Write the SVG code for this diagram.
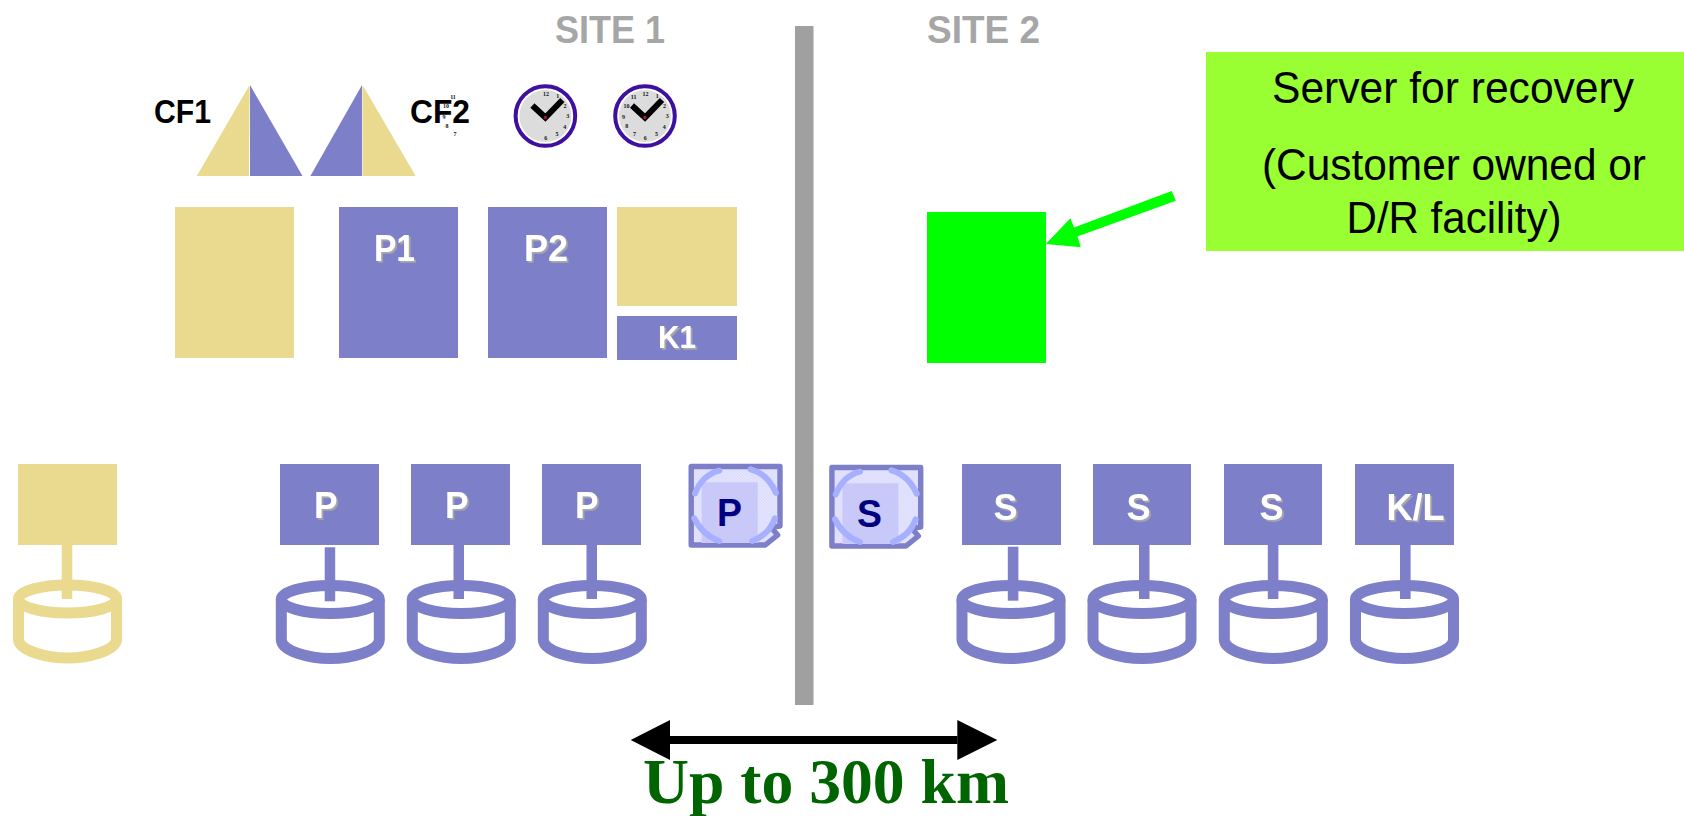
<svg xmlns="http://www.w3.org/2000/svg" xmlns:xlink="http://www.w3.org/1999/xlink" width="1684" height="816" viewBox="0 0 1684 816">
<style>
text{font-family:"Liberation Sans",Arial,sans-serif}
.b{fill:#7d7fc8}.y{fill:#e9da8f}
.lbl{font-weight:700;font-size:37px;fill:#fff;filter:url(#sh)}
.cf{font-weight:700;font-size:33px;fill:#000}
.site{font-weight:700;font-size:38px;fill:#a6a6a6}
.note{font-size:45px;fill:#000;text-anchor:middle}
.doc{font-weight:700;font-size:38px;fill:#000080}
.n{font-family:"Liberation Serif",serif;font-weight:700;font-size:6px;fill:#111;text-anchor:middle}
.cyl{fill:none;stroke-width:11}
.cb{stroke:#7d7fc8}.cy{stroke:#e9da8f}
.stem-b{fill:#7d7fc8}.stem-y{fill:#e9da8f}
.big{font-family:"Liberation Serif",serif;font-weight:700;font-size:64px;fill:#006400}
</style>
<defs>
<filter id="sh" x="-20%" y="-20%" width="150%" height="150%"><feDropShadow dx="1.8" dy="1.8" stdDeviation="0.3" flood-color="#a8a8a8" flood-opacity="1"/></filter>
<pattern id="chk" width="3" height="3" patternUnits="userSpaceOnUse"><rect width="3" height="3" fill="#e8e8ff"/><rect width="1.5" height="1.5" fill="#d8d9fc"/><rect x="1.5" y="1.5" width="1.5" height="1.5" fill="#d8d9fc"/></pattern>
<g id="cyl"><ellipse rx="49" ry="14"/><path d="M-49,0V40C-49,52-20,59 0,59C20,59 49,52 49,40V0"/></g>
<g id="docshape">
<path d="M2.500,2.500H91.300V62L82.300,63.300L89,71L76.600,81H2.500z" fill="url(#chk)" stroke="#7d7fc8" stroke-width="5.400" stroke-linejoin="round"/>
<rect x="13" y="18.300" width="56" height="60.700" fill="#c8c9f8"/>
<path d="M6.300,29.300Q14,10.700 30.600,6.700M62,5.300Q79,10 87.300,28.700M5.600,54.300Q14,71 30.600,77M86.300,54.300Q81,70 63.600,77" fill="none" stroke="#a6b0ff" stroke-width="6" stroke-linecap="round"/>
</g>
<g id="clockface">
<circle r="29.800" fill="#fff" stroke="#3f0f9f" stroke-width="4"/>
<circle r="26" fill="#dcdcdc"/>
<path d="M-13,-10.500L0,1.500L17,-16" fill="none" stroke="#000" stroke-width="6"/>
<circle cy="1.500" r="1.800" fill="#a01050"/>
</g>
</defs>
<rect width="1684" height="816" fill="#fff"/>

<g id="divider"><rect x="795" y="26" width="18.500" height="679" fill="#a0a0a0"/></g>
<g id="site1"><text class="site" x="555" y="43" textLength="110" lengthAdjust="spacingAndGlyphs">SITE 1</text></g>
<g id="site2"><text class="site" x="927" y="43" textLength="113" lengthAdjust="spacingAndGlyphs">SITE 2</text></g>

<g id="cf1"><text class="cf" x="154" y="123" textLength="57" lengthAdjust="spacingAndGlyphs">CF1</text>
<path class="y" d="M249.600,85L196.800,176H249z"/><path class="b" d="M250,85L302.500,176H250z"/></g>
<g id="cf2"><text class="cf" x="410" y="123" textLength="60" lengthAdjust="spacingAndGlyphs">CF2</text>
<path class="b" d="M362,85L310.400,176H362z"/><path class="y" d="M362.500,85L415.700,176H362.500z"/></g>

<g id="clock1"><use xlink:href="#clockface" href="#clockface" transform="translate(545.400,116)"/>
<text class="n" x="546" y="96">12</text><text class="n" x="557.700" y="98">1</text><text class="n" x="565" y="108">2</text><text class="n" x="567.700" y="118">3</text><text class="n" x="564.700" y="128.700">4</text><text class="n" x="557" y="136">5</text><text class="n" x="545.700" y="140.300">6</text>
<text class="n" x="455" y="136">7</text><text class="n" x="447" y="128">8</text><text class="n" x="444" y="118.700">9</text><text class="n" x="446" y="108">10</text><text class="n" x="453" y="98.700">11</text></g>
<g id="clock2"><use xlink:href="#clockface" href="#clockface" transform="translate(645,116)"/>
<text class="n" x="645.600" y="96">12</text><text class="n" x="657.300" y="98">1</text><text class="n" x="664.600" y="108">2</text><text class="n" x="667.300" y="118">3</text><text class="n" x="664.300" y="128.700">4</text><text class="n" x="656.600" y="136">5</text><text class="n" x="645.300" y="140.300">6</text>
<text class="n" x="634.600" y="135.700">7</text><text class="n" x="626.800" y="128">8</text><text class="n" x="623.600" y="119">9</text><text class="n" x="626.400" y="108">10</text><text class="n" x="633.600" y="99">11</text></g>

<g id="cec-y"><rect class="y" x="175" y="207" width="119" height="151"/></g>
<g id="cec-p1"><rect class="b" x="339" y="207" width="119" height="151"/><text class="lbl" x="374" y="261" textLength="41" lengthAdjust="spacingAndGlyphs">P1</text></g>
<g id="cec-p2"><rect class="b" x="488" y="207" width="119" height="151"/><text class="lbl" x="524" y="261" textLength="44" lengthAdjust="spacingAndGlyphs">P2</text></g>
<g id="cec-k"><rect class="y" x="617" y="207" width="120" height="99"/></g>
<g id="cec-k1"><rect class="b" x="617" y="316" width="120" height="44"/><text x="658" y="348" textLength="38" lengthAdjust="spacingAndGlyphs" style="font-weight:700;font-size:32px;fill:#fff;filter:url(#sh)">K1</text></g>

<g id="recovery-server"><rect x="927" y="212" width="119" height="151" fill="#0f0"/></g>
<g id="note"><rect x="1206" y="52" width="478" height="199" fill="#9f3"/>
<text class="note" x="1453" y="103" textLength="362" lengthAdjust="spacingAndGlyphs">Server for recovery</text>
<text class="note" x="1454" y="180" textLength="384" lengthAdjust="spacingAndGlyphs">(Customer owned or</text>
<text class="note" x="1454" y="232.500" textLength="215" lengthAdjust="spacingAndGlyphs">D/R facility)</text></g>

<g id="sys-y"><rect class="y" x="18" y="464" width="99" height="81"/></g>
<g id="sys-p1"><rect class="b" x="280" y="464" width="99" height="81"/><text class="lbl" x="314" y="518" textLength="23.500" lengthAdjust="spacingAndGlyphs">P</text></g>
<g id="sys-p2"><rect class="b" x="411" y="464" width="99" height="81"/><text class="lbl" x="445" y="518" textLength="23.500" lengthAdjust="spacingAndGlyphs">P</text></g>
<g id="sys-p3"><rect class="b" x="542" y="464" width="99" height="81"/><text class="lbl" x="575" y="518" textLength="23.500" lengthAdjust="spacingAndGlyphs">P</text></g>
<g id="doc-p"><use xlink:href="#docshape" href="#docshape" transform="translate(688.700,464)"/><text class="doc" x="717" y="526" textLength="25" lengthAdjust="spacingAndGlyphs">P</text></g>
<g id="doc-s"><use xlink:href="#docshape" href="#docshape" transform="translate(829.400,465)"/><text class="doc" x="857" y="527" textLength="25" lengthAdjust="spacingAndGlyphs">S</text></g>
<g id="sys-s1"><rect class="b" x="962" y="464" width="99" height="81"/><text class="lbl" x="993.500" y="519.500" textLength="24" lengthAdjust="spacingAndGlyphs">S</text></g>
<g id="sys-s2"><rect class="b" x="1093" y="464" width="98" height="81"/><text class="lbl" x="1126.500" y="519.500" textLength="24" lengthAdjust="spacingAndGlyphs">S</text></g>
<g id="sys-s3"><rect class="b" x="1224" y="464" width="98" height="81"/><text class="lbl" x="1259.500" y="519.500" textLength="24" lengthAdjust="spacingAndGlyphs">S</text></g>
<g id="sys-kl"><rect class="b" x="1355" y="464" width="99" height="81"/><text class="lbl" x="1386.500" y="519.500" textLength="58" lengthAdjust="spacingAndGlyphs">K/L</text></g>

<g id="disk-y"><use xlink:href="#cyl" href="#cyl" class="cyl cy" transform="translate(67.500,599)"/></g>
<g id="disk-p1"><use xlink:href="#cyl" href="#cyl" class="cyl cb" transform="translate(330.300,599.500)"/></g>
<g id="disk-p2"><use xlink:href="#cyl" href="#cyl" class="cyl cb" transform="translate(461.300,599.500)"/></g>
<g id="disk-p3"><use xlink:href="#cyl" href="#cyl" class="cyl cb" transform="translate(592.300,599.500)"/></g>
<g id="disk-s1"><use xlink:href="#cyl" href="#cyl" class="cyl cb" transform="translate(1011,599.500)"/></g>
<g id="disk-s2"><use xlink:href="#cyl" href="#cyl" class="cyl cb" transform="translate(1142,599.500)"/></g>
<g id="disk-s3"><use xlink:href="#cyl" href="#cyl" class="cyl cb" transform="translate(1273.300,599.500)"/></g>
<g id="disk-kl"><use xlink:href="#cyl" href="#cyl" class="cyl cb" transform="translate(1404.500,599.500)"/></g>

<g id="connectors">
<rect class="stem-y" x="61.700" y="545" width="10.600" height="54"/>
<rect class="stem-b" x="324.700" y="547.300" width="10.500" height="54"/>
<rect class="stem-b" x="453.500" y="545" width="10.500" height="54"/>
<rect class="stem-b" x="586.500" y="545" width="10.500" height="54"/>
<rect class="stem-b" x="1007.800" y="546.700" width="10.600" height="54"/>
<rect class="stem-b" x="1139" y="545" width="10.500" height="54"/>
<rect class="stem-b" x="1267.800" y="545" width="10.600" height="54"/>
<rect class="stem-b" x="1400" y="545" width="10.600" height="54"/>
<line x1="670" y1="740" x2="957.500" y2="740" stroke="#000" stroke-width="8"/>
<path d="M670,720L630.700,740L670,760z" fill="#000"/>
<path d="M957.300,720L997.300,740L957.300,760z" fill="#000"/>
<polygon points="1045.800,244 1070.400,218.300 1074,227.500 1171.700,191 1175.800,200.700 1077.500,236.500 1080.800,247.300" fill="#0f0"/>
</g>
<g id="distance"><text class="big" x="643" y="803" textLength="366" lengthAdjust="spacingAndGlyphs">Up to 300 km</text></g>
</svg>
